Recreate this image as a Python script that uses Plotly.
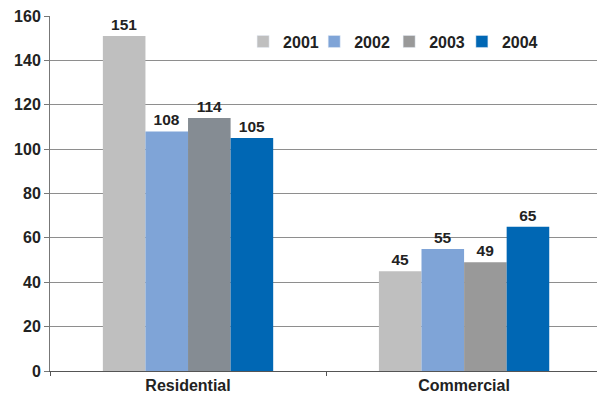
import plotly.graph_objects as go

categories = ["Residential", "Commercial"]
years = ["2001", "2002", "2003", "2004"]
values = {
    "2001": [151, 45],
    "2002": [108, 55],
    "2003": [114, 49],
    "2004": [105, 65],
}
colors = {
    "2001": ["#BFBFBF", "#BFBFBF"],
    "2002": ["#7FA4D7", "#7FA4D7"],
    "2003": ["#858C93", "#999999"],
    "2004": ["#0067B4", "#0067B4"],
}
legend_colors = {"2001": "#BFBFBF", "2002": "#7FA4D7", "2003": "#999999", "2004": "#0067B4"}

FONT = "Liberation Sans, Arial, sans-serif"
TEXT_COLOR = "#222222"

fig = go.Figure()
for yr in years:
    fig.add_trace(go.Bar(
        name=yr,
        x=categories,
        y=values[yr],
        marker=dict(color=colors[yr], line=dict(width=0)),
        text=values[yr],
        textposition="outside",
        constraintext="none",
        cliponaxis=False,
        textfont=dict(family=FONT, size=15.5, color=TEXT_COLOR, weight="bold"),
        showlegend=False,
    ))

# one legend per year, laid out in a row across the top of the plot
legend_ids = ["legend", "legend2", "legend3", "legend4"]
legend_x = [0.353, 0.483, 0.620, 0.753]
for yr, lid in zip(years, legend_ids):
    # legend entry on a hidden overlay axis so it does not take a bar slot
    fig.add_trace(go.Bar(
        name=yr, x=[None], y=[None],
        xaxis="x2",
        marker=dict(color=legend_colors[yr]),
        showlegend=True,
        legend=lid,
    ))

legend_style = dict(
    orientation="h", y=0.928, xanchor="left", yanchor="middle",
    bgcolor="rgba(0,0,0,0)", font=dict(family=FONT, size=16, color=TEXT_COLOR, weight="bold"),
    itemwidth=30, tracegroupgap=0,
)

fig.update_layout(
    width=597, height=396,
    margin=dict(l=50, r=0, t=16, b=25),
    paper_bgcolor="white", plot_bgcolor="white",
    barmode="group", bargap=0.383, bargroupgap=0,
    font=dict(family=FONT, size=16, color=TEXT_COLOR, weight="bold"),
    showlegend=True,
    xaxis2=dict(overlaying="x", visible=False, range=[0, 1]),
    **{lid: dict(x=lx, **legend_style) for lid, lx in zip(legend_ids, legend_x)},
)
fig.layout.xaxis.update(
    range=[-0.5, 1.4815],
    showline=True, linecolor="#555555", linewidth=1,
    ticks="outside", tickson="boundaries", ticklen=4, tickcolor="#555555",
    showgrid=False,
    tickfont=dict(family=FONT, size=16, color=TEXT_COLOR, weight="bold"),
)
fig.update_yaxes(
    range=[0, 160], dtick=20,
    showline=True, linecolor="#777777", linewidth=1,
    ticks="outside", ticklen=5, tickcolor="#777777",
    showgrid=True, gridcolor="#8E8E8E", gridwidth=1,
    zeroline=False,
    tickfont=dict(family=FONT, size=16, color=TEXT_COLOR, weight="bold"),
)

fig.write_html("out.html")
